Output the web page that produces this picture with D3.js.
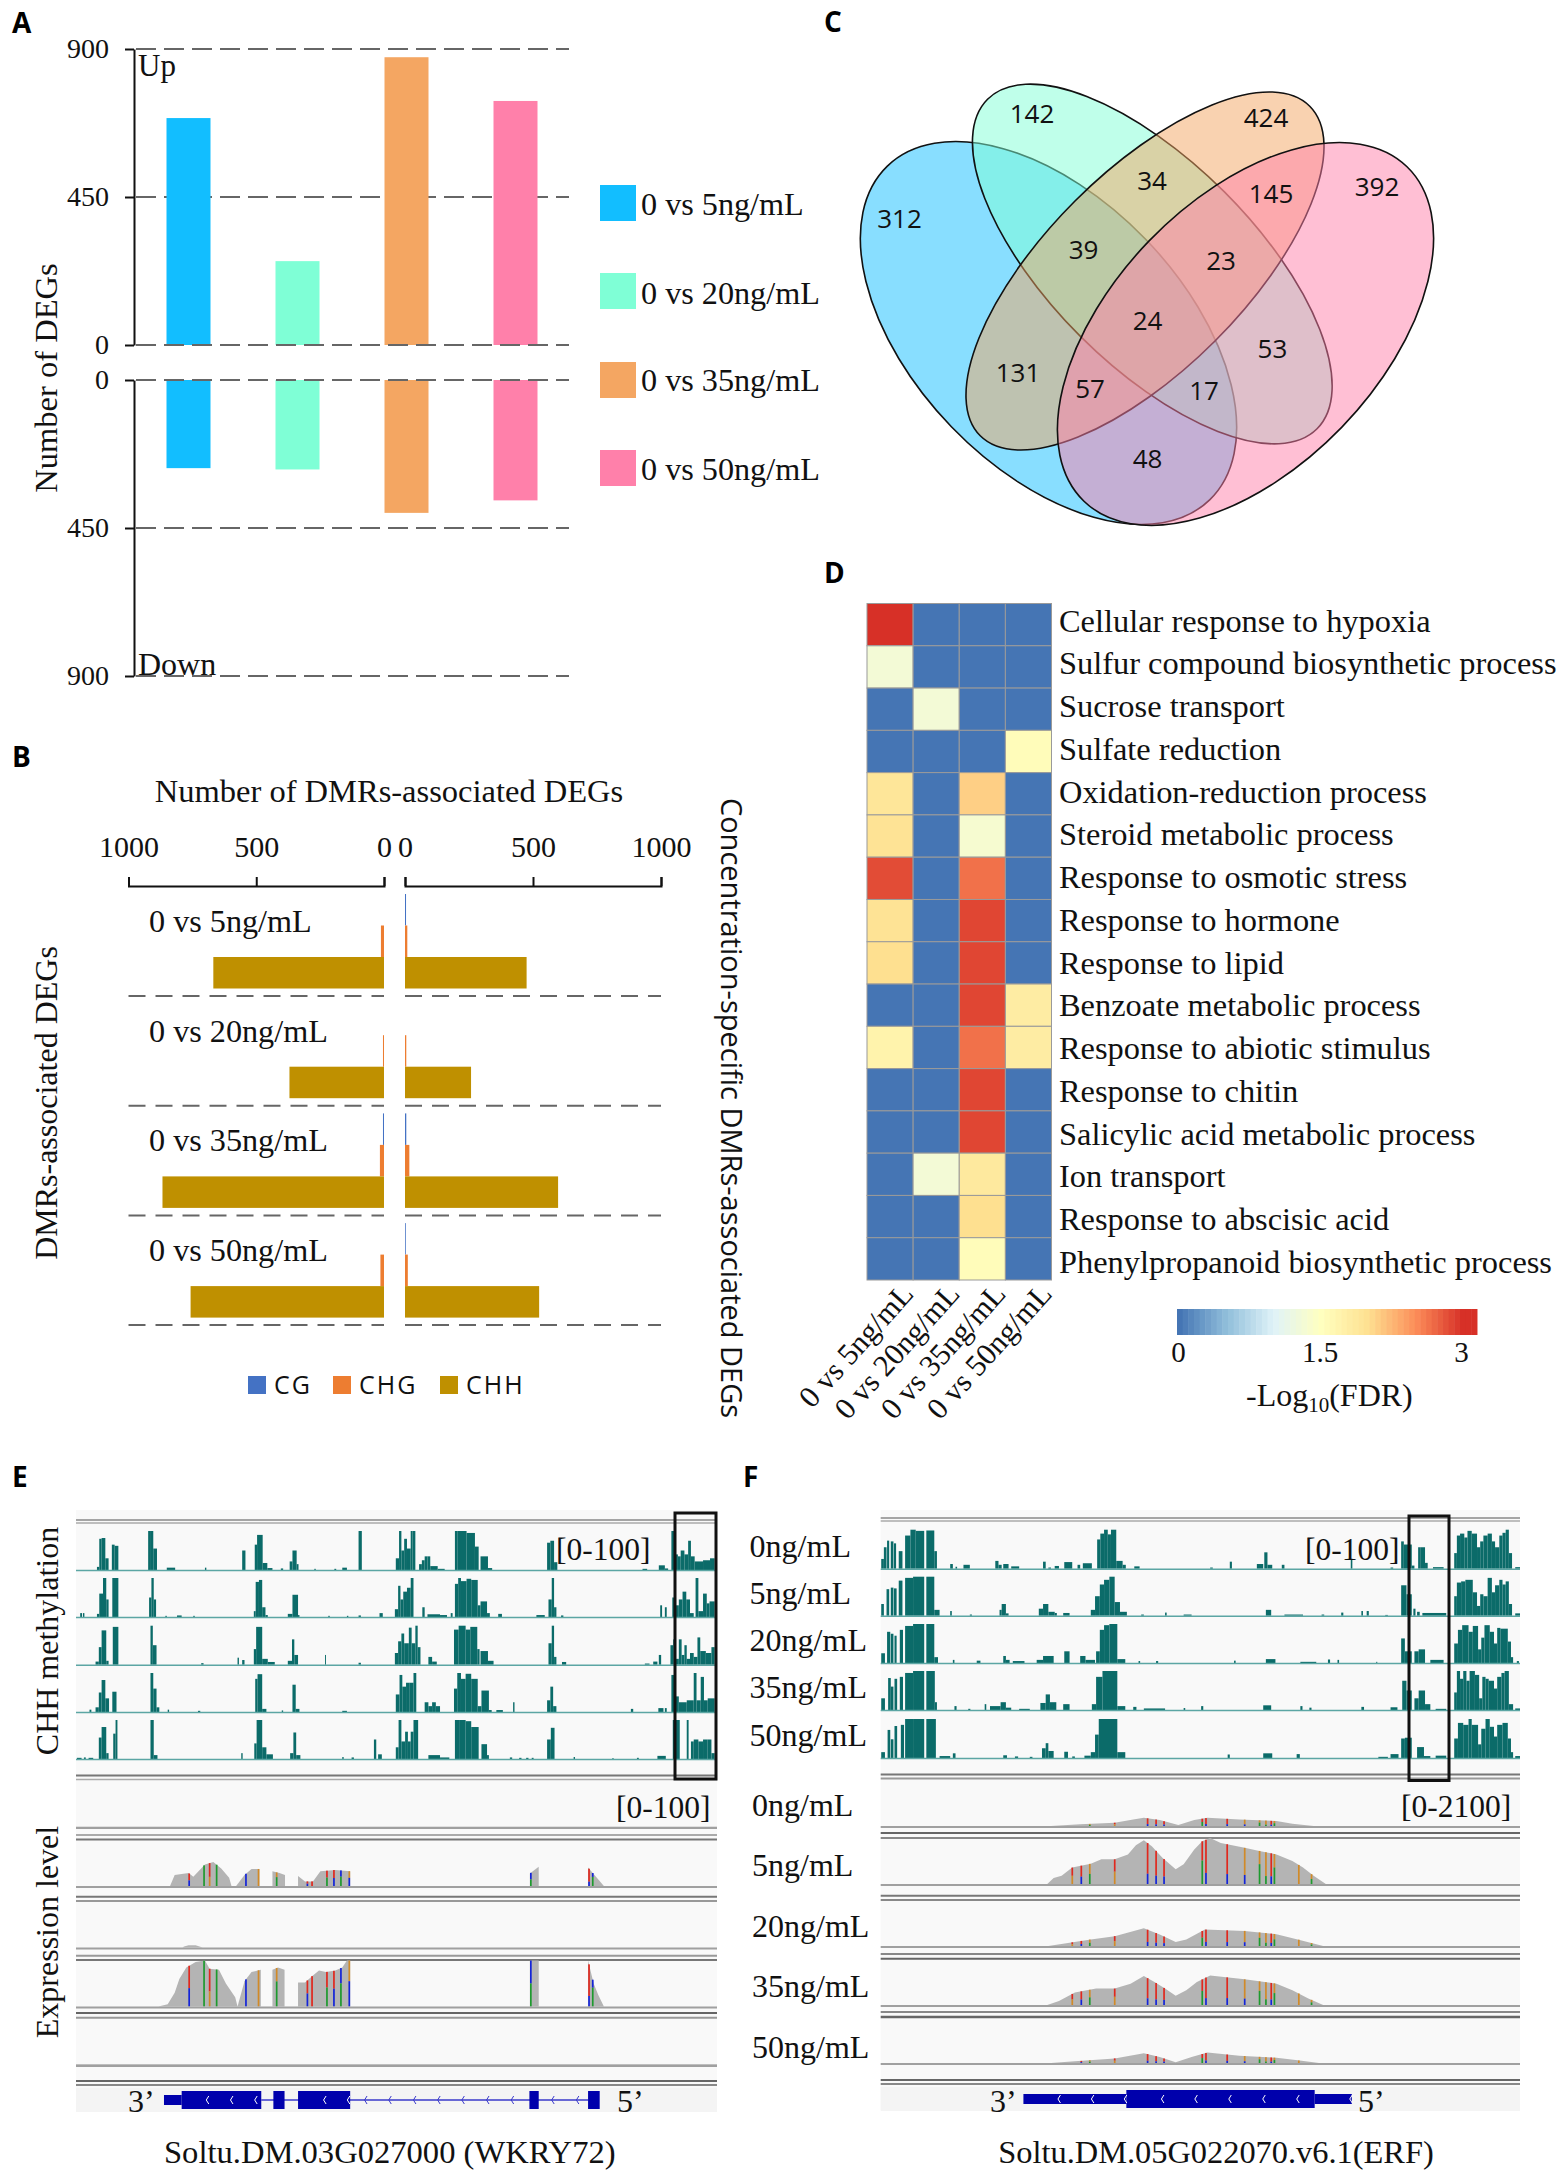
<!DOCTYPE html>
<html>
<head>
<meta charset="utf-8">
<script src="https://d3js.org/d3.v7.min.js"></script>
<style>
  html, body { margin: 0; padding: 0; background: #fff; }
  svg { display: block; }
  text { font-family: "Liberation Serif", serif; fill: #111; }
  .letter { font-family: "Open Sans", sans-serif; font-weight: 700; font-size: 28px; fill: #000; }
  .sans { font-family: "Open Sans", sans-serif; }
</style>
</head>
<body>
<svg id="fig" width="1562" height="2175"></svg>
<script>
// panel A
var comparisons = ['0 vs 5ng/mL', '0 vs 20ng/mL', '0 vs 35ng/mL', '0 vs 50ng/mL'];
var compColors = ['#12BEFF', '#7FFFD6', '#F4A662', '#FF80AA'];
var degUp = [690, 255, 875, 742];
var degDown = [268, 272, 404, 366];
var degTicks = [0, 450, 900];

// panel B
var dmrTypes = ['CG', 'CHG', 'CHH'];
var dmrColors = ['#4472C4', '#ED7D31', '#BF9000'];
var dmrLeft = [[0, 12, 668], [0, 4, 370], [4, 16, 867], [0, 14, 757]];
var dmrRight = [[4, 9, 475], [0, 5, 258], [5, 17, 598], [3, 11, 524]];
var dmrTicks = [0, 500, 1000];

// panel C
var vennLabels = ['312', '142', '424', '392', '34', '145', '39', '23', '24', '53', '131', '57', '17', '48'];

// panel D
var goTerms = ['Cellular response to hypoxia', 'Sulfur compound biosynthetic process', 'Sucrose transport',
  'Sulfate reduction', 'Oxidation-reduction process', 'Steroid metabolic process', 'Response to osmotic stress',
  'Response to hormone', 'Response to lipid', 'Benzoate metabolic process', 'Response to abiotic stimulus',
  'Response to chitin', 'Salicylic acid metabolic process', 'Ion transport', 'Response to abscisic acid',
  'Phenylpropanoid biosynthetic process'];
var goValues = [
  [3.0, 0, 0, 0], [1.3, 0, 0, 0], [0, 1.3, 0, 0], [0, 0, 0, 1.55],
  [1.9, 0, 2.1, 0], [1.95, 0, 1.35, 0], [2.85, 0, 2.65, 0], [1.95, 0, 2.88, 0],
  [2.0, 0, 2.88, 0], [0, 0, 2.88, 1.8], [1.7, 0, 2.65, 1.8], [0, 0, 2.88, 0],
  [0, 0, 2.88, 0], [0, 1.3, 1.85, 0], [0, 0, 2.0, 0], [0, 0, 1.55, 0]];

// panel E methylation, [start, end, percent]
var methE = [
  [[208,213,8],[213,218,80],[218,226,82],[226,233,30],[240,246,65],[246,254,62],[318,324,100],[324,329,100],[329,337,55],[358,376,6],[440,443,6],[520,527,50],[547,552,65],[552,564,90],[564,574,18],[574,585,5],[603,608,4],[622,628,22],[628,637,50],[637,641,15],[675,678,3],[718,722,3],[735,745,6],[770,777,100],[850,857,30],[857,862,100],[862,868,50],[868,874,80],[874,882,55],[882,886,100],[886,892,100],[900,906,15],[906,912,25],[912,918,35],[918,924,35],[924,940,10],[940,955,3],[977,983,100],[983,1002,100],[1002,1020,95],[1020,1028,60],[1032,1048,35],[1048,1057,5],[1175,1182,70],[1182,1190,75],[1190,1197,20],[1380,1390,3],[1415,1428,12],[1428,1435,4],[1442,1448,100],[1448,1456,40],[1456,1462,35],[1462,1470,50],[1470,1478,40],[1478,1484,75],[1484,1492,35],[1492,1510,22],[1510,1525,25],[1525,1535,30]],
  [[172,176,10],[178,181,10],[208,213,8],[213,221,60],[221,228,100],[228,233,45],[241,254,100],[320,325,50],[325,330,100],[330,335,45],[355,358,3],[380,390,4],[415,418,3],[545,549,15],[549,556,90],[556,563,95],[563,570,25],[570,575,5],[618,628,8],[628,640,57],[640,643,5],[705,708,3],[745,748,3],[770,775,4],[815,822,10],[848,855,20],[855,860,80],[860,866,45],[866,874,65],[874,882,75],[882,888,100],[907,912,25],[918,945,7],[945,960,5],[968,972,10],[977,984,85],[984,990,100],[990,1002,92],[1002,1012,98],[1012,1026,95],[1026,1032,30],[1032,1046,40],[1046,1052,10],[1070,1078,8],[1152,1170,5],[1178,1185,45],[1185,1190,100],[1190,1195,25],[1205,1210,4],[1418,1422,30],[1428,1432,25],[1444,1452,50],[1452,1458,30],[1458,1466,45],[1466,1474,65],[1474,1482,45],[1482,1490,10],[1494,1500,100],[1500,1510,15],[1510,1518,60],[1518,1524,35],[1524,1535,40]],
  [[205,212,8],[212,218,45],[218,228,88],[228,233,10],[242,254,97],[323,328,100],[328,336,50],[432,437,4],[510,513,18],[520,525,12],[545,550,40],[550,563,97],[563,575,15],[575,590,7],[618,627,10],[627,632,65],[632,640,25],[698,700,25],[770,775,5],[848,855,30],[855,862,60],[862,868,80],[868,878,55],[878,884,95],[884,892,55],[892,897,100],[897,903,45],[920,928,20],[928,938,8],[975,985,90],[985,1000,100],[1000,1010,90],[1010,1025,97],[1025,1030,40],[1032,1048,35],[1048,1060,10],[1178,1185,55],[1185,1190,100],[1190,1195,20],[1207,1216,7],[1385,1395,3],[1403,1412,8],[1415,1420,25],[1440,1446,50],[1446,1452,65],[1452,1458,15],[1458,1464,65],[1464,1470,25],[1470,1475,50],[1475,1482,15],[1482,1490,30],[1490,1498,20],[1498,1504,70],[1504,1516,35],[1516,1528,30],[1528,1535,45]],
  [[192,196,6],[205,212,12],[212,218,50],[218,226,82],[226,234,35],[241,250,52],[323,329,100],[329,336,60],[336,342,12],[360,363,6],[425,430,3],[548,553,85],[553,563,97],[563,572,8],[605,608,4],[628,635,70],[635,643,8],[735,745,3],[850,858,45],[858,864,95],[864,872,65],[872,880,75],[880,888,75],[888,894,100],[912,920,25],[920,928,15],[928,936,25],[936,945,15],[975,982,60],[982,990,100],[990,1000,85],[1000,1012,98],[1012,1026,85],[1026,1034,15],[1034,1050,55],[1050,1056,5],[1066,1080,5],[1102,1105,25],[1175,1182,30],[1182,1188,65],[1188,1195,15],[1355,1360,8],[1414,1425,10],[1428,1432,10],[1442,1450,95],[1450,1458,40],[1458,1475,25],[1475,1490,30],[1490,1496,100],[1496,1505,30],[1505,1512,90],[1512,1520,30],[1520,1535,35]],
  [[165,175,3],[180,184,4],[190,200,3],[212,218,55],[218,228,82],[228,233,15],[243,248,65],[248,252,100],[323,330,100],[330,338,10],[518,521,15],[546,551,40],[551,563,100],[563,572,30],[572,586,12],[623,630,15],[630,636,68],[636,645,10],[735,738,5],[755,760,4],[803,808,50],[812,820,12],[850,856,30],[856,862,100],[862,870,45],[870,876,70],[876,882,45],[882,888,70],[888,898,100],[920,945,10],[945,965,4],[977,986,100],[986,1000,100],[1000,1012,97],[1012,1028,82],[1034,1046,38],[1046,1050,10],[1095,1100,4],[1115,1120,3],[1130,1135,3],[1142,1146,3],[1175,1183,50],[1183,1191,80],[1232,1235,5],[1315,1318,2],[1368,1372,3],[1412,1430,8],[1445,1450,100],[1450,1460,100],[1475,1479,100],[1484,1490,45],[1490,1500,50],[1500,1510,45],[1510,1520,50],[1520,1528,50],[1528,1535,15]]
];

// panel F methylation, [start, end, percent]
var methF = [
  [[285,290,25],[290,295,55],[296,300,72],[303,308,70],[309,313,65],[318,325,45],[330,340,85],[340,350,100],[350,366,97],[370,385,98],[385,390,45],[415,420,12],[425,428,5],[440,452,10],[500,506,20],[506,512,10],[515,525,12],[530,545,6],[590,595,18],[600,605,3],[612,620,7],[630,645,17],[655,660,10],[665,682,14],[692,698,75],[698,705,90],[705,712,100],[712,718,88],[718,728,100],[728,740,20],[740,746,10],[762,772,6],[905,910,3],[942,946,18],[993,1005,12],[1007,1013,42],[1013,1022,10],[1040,1045,10],[1170,1173,25],[1245,1250,3],[1265,1270,70],[1270,1285,62],[1285,1290,8],[1297,1302,55],[1302,1310,55],[1310,1315,15],[1325,1345,4],[1365,1370,40],[1370,1376,85],[1376,1384,90],[1384,1390,80],[1390,1398,97],[1398,1408,90],[1408,1414,55],[1414,1420,70],[1420,1428,85],[1428,1436,90],[1436,1442,70],[1442,1450,55],[1450,1456,85],[1456,1462,92],[1462,1468,100],[1468,1474,40],[1480,1489,4]],
  [[285,290,30],[295,300,68],[303,308,72],[309,314,70],[318,325,90],[330,345,97],[345,366,100],[370,385,100],[385,395,15],[415,418,12],[452,456,3],[508,512,15],[512,520,30],[520,525,6],[582,590,18],[590,600,30],[600,612,10],[612,616,7],[628,640,7],[680,688,15],[688,697,50],[697,705,80],[705,715,92],[715,725,100],[725,735,35],[735,748,10],[775,780,3],[820,823,8],[855,870,3],[1010,1020,15],[1045,1080,3],[1115,1120,3],[1152,1156,8],[1190,1193,12],[1200,1204,12],[1235,1240,2],[1265,1275,78],[1275,1285,55],[1288,1292,18],[1295,1300,10],[1305,1350,7],[1365,1370,50],[1370,1378,85],[1378,1386,88],[1386,1400,92],[1400,1408,60],[1408,1414,25],[1414,1420,55],[1420,1428,50],[1428,1436,97],[1436,1442,60],[1442,1450,78],[1450,1456,92],[1456,1462,80],[1462,1468,88],[1468,1474,30],[1480,1489,6]],
  [[285,292,25],[296,302,80],[303,308,75],[310,314,70],[320,326,85],[330,345,95],[345,366,100],[370,385,100],[385,392,15],[420,423,8],[465,472,6],[515,520,18],[520,527,8],[533,555,5],[578,590,8],[590,610,18],[630,640,30],[660,670,18],[670,688,8],[690,697,30],[697,705,85],[705,715,97],[715,730,100],[730,745,10],[770,773,5],[803,807,5],[950,953,6],[1010,1028,10],[1075,1105,3],[1127,1131,9],[1145,1148,8],[1218,1220,3],[1265,1272,63],[1272,1285,30],[1290,1298,30],[1298,1310,35],[1320,1345,8],[1365,1372,50],[1372,1380,85],[1380,1392,97],[1392,1400,80],[1400,1410,95],[1410,1416,35],[1416,1422,65],[1422,1432,97],[1432,1440,80],[1440,1446,50],[1446,1452,90],[1452,1466,88],[1466,1472,55],[1472,1476,15],[1483,1487,5]],
  [[285,292,30],[298,303,82],[303,308,60],[310,315,80],[320,326,85],[330,345,95],[345,366,100],[370,386,100],[386,390,20],[423,427,10],[449,453,3],[480,483,15],[490,510,10],[510,520,20],[520,530,6],[545,565,3],[585,595,18],[595,603,40],[603,615,20],[628,640,15],[682,690,15],[690,702,85],[702,730,100],[730,745,10],[760,766,8],[780,820,4],[855,858,5],[888,892,10],[1005,1020,12],[1075,1079,10],[1092,1096,6],[1190,1195,8],[1245,1258,7],[1267,1275,75],[1275,1285,50],[1290,1298,30],[1298,1310,50],[1310,1320,15],[1330,1350,3],[1365,1370,45],[1370,1376,100],[1376,1382,80],[1382,1388,100],[1388,1394,75],[1394,1404,100],[1404,1412,90],[1412,1418,30],[1418,1424,85],[1424,1430,80],[1430,1440,75],[1440,1446,55],[1446,1454,85],[1454,1460,95],[1460,1468,100],[1468,1476,15],[1480,1489,4]],
  [[285,292,15],[297,302,72],[303,308,48],[310,315,82],[322,328,85],[330,345,100],[345,366,100],[370,388,100],[395,415,5],[420,425,12],[515,522,7],[537,543,4],[565,570,3],[588,595,25],[595,600,38],[600,610,18],[630,637,16],[645,650,4],[668,680,6],[680,688,15],[688,695,60],[695,730,100],[730,745,15],[938,942,9],[1005,1022,12],[1068,1074,10],[1222,1240,3],[1245,1260,10],[1265,1272,50],[1272,1285,52],[1295,1308,28],[1308,1320,5],[1330,1350,6],[1365,1372,50],[1372,1382,90],[1382,1392,85],[1392,1398,100],[1398,1410,85],[1410,1416,35],[1416,1424,75],[1424,1432,100],[1432,1440,80],[1440,1446,55],[1446,1456,85],[1456,1466,90],[1466,1472,50],[1472,1476,15],[1480,1489,5]]
];

// expression coverage, each track is a list of segments of [position, reads]
var exprE = [
  [],
  [[[365,0],[375,24],[405,28],[415,20],[440,47],[458,52],[475,38],[492,18],[497,0]],
   [[507,0],[525,24],[540,37],[557,37],[557,0]], [[585,0],[585,32],[600,28],[612,24],[612,0]],
   [[640,0],[640,22],[655,10],[672,10],[688,32],[720,35],[752,32],[752,0]],
   [[1138,0],[1138,27],[1157,42],[1157,0]], [[1263,0],[1263,40],[1280,20],[1297,0]]],
  [[[392,0],[395,2],[405,5],[420,5],[435,0]]],
  [[[340,0],[360,5],[375,30],[385,60],[400,85],[420,97],[440,100],[450,82],[470,80],[485,50],[505,20],[510,0]],
   [[510,0],[525,55],[540,75],[560,80],[560,0]], [[585,0],[585,80],[597,85],[611,80],[611,0]],
   [[640,0],[640,52],[655,52],[670,66],[685,78],[700,75],[720,78],[735,85],[745,100],[752,100],[752,0]],
   [[1138,0],[1138,100],[1157,100],[1157,0]], [[1263,0],[1263,100],[1275,50],[1285,25],[1297,0]]],
  []
];
var exprF = [
  [[[605,0],[660,75],[725,150],[760,300],[780,375],[810,270],[845,45],[875,270],[900,375],[960,300],[1030,225],[1060,105],[1100,0]]],
  [[[598,0],[610,270],[625,375],[645,750],[680,930],[700,1125],[725,1125],[750,1350],[765,1770],[780,1995],[795,1725],[815,1200],[840,675],[855,900],[875,1575],[890,1950],[905,2100],[925,1875],[970,1650],[1000,1500],[1030,1350],[1060,1050],[1080,750],[1100,375],[1123,0]]],
  [[[600,0],[640,150],[680,300],[725,450],[780,810],[810,525],[840,180],[860,300],[895,750],[970,690],[1030,540],[1070,300],[1118,0]]],
  [[[598,0],[620,180],[650,570],[690,750],[725,750],[755,975],[780,1320],[800,1050],[820,750],[840,420],[860,675],[880,1050],[905,1350],[970,1170],[1030,975],[1060,675],[1090,300],[1118,0]]],
  [[[605,0],[650,75],[725,210],[780,450],[810,270],[840,30],[870,270],[900,480],[960,330],[1030,240],[1070,120],[1110,0]]]
];

// variant positions: [position, lower base, upper base, fraction of lower base]
var variantsE = [[406,'C','T',0.45],[438,'A','A',1],[450,'G','T',0.4],[465,'A','A',1],[528,'C','C',1],[555,'G','G',1],[594,'A','G',0.65],[660,'C','T',0.5],[670,'T','T',1],[702,'A','T',0.55],[717,'C','T',0.5],[732,'A','C',0.6],[750,'C','G',0.55],[1140,'A','C',0.5],[1265,'C','T',0.25],[1273,'A','C',0.7]];
var variantsF = [[645,'G','T',0.5],[662,'C','T',0.4],[678,'A','G',0.5],[725,'G','T',0.5],[787,'C','T',0.25],[803,'C','T',0.25],[818,'C','T',0.3],[890,'A','T',0.55],[897,'C','T',0.25],[937,'C','T',0.25],[970,'C','G',0.25],[998,'A','G',0.6],[1010,'A','G',0.25],[1020,'C','T',0.25],[1026,'A','G',0.55],[1072,'G','G',1],[1096,'A','G',0.5]];
var baseColors = {A: '#1E9A2E', C: '#1424D8', G: '#D18A28', T: '#E0281E'};

// gene models
var exonsE = [[352,390,0],[390,561,1],[587,611,1],[640,752,1],[1137,1157,1],[1263,1288,1]];
var intronE = [561, 1263];
var marksE = [445,497,549,697,748,785,837,890,942,994,1047,1100,1187,1240];
var exonsF = [[553,747,0],[747,1102,1],[1102,1172,0]];
var marksF = [620,683,745,815,878,942,1006,1070,1170];

var doseLabels = ['0ng/mL', '5ng/mL', '20ng/mL', '35ng/mL', '50ng/mL'];

var svg = d3.select('#fig');

function letter(s, x, y) {
  svg.append('text').attr('class', 'letter').attr('x', x).attr('y', y).text(s);
}

function rotated(s, x, y, angle, size, cls) {
  return svg.append('text').attr('class', cls || null)
    .attr('transform', 'translate(' + x + ',' + y + ') rotate(' + angle + ')')
    .attr('text-anchor', 'middle').attr('dominant-baseline', 'middle')
    .style('font-size', size + 'px').text(s);
}

function hline(g, x0, x1, y, color, w, dash) {
  g.append('line').attr('x1', x0).attr('x2', x1).attr('y1', y).attr('y2', y)
    .attr('stroke', color).attr('stroke-width', w).attr('stroke-dasharray', dash || null);
}

/* ---------- A ---------- */
letter('A', 12, 33);
var ax = d3.scaleBand().domain(comparisons).range([137, 573]).paddingInner(0.0);
var barW = 44;
var yUp = d3.scaleLinear().domain([0, 900]).range([345, 49]);
var yDown = d3.scaleLinear().domain([0, 900]).range([380, 676]);
var gA = svg.append('g');
var dashA = '20,8';

degTicks.forEach(function(t) {
  hline(gA, 136, 569, yUp(t), '#666', 2, dashA);
  hline(gA, 136, 569, yDown(t), '#666', 2, dashA);
});

function barX(d) { return ax(d) + ax.bandwidth() / 2 - barW / 2 - 3; }

gA.selectAll('.up').data(comparisons).enter().append('rect')
  .attr('x', barX).attr('width', barW)
  .attr('y', function(d, i) { return yUp(degUp[i]); })
  .attr('height', function(d, i) { return yUp(0) - yUp(degUp[i]); })
  .attr('fill', function(d, i) { return compColors[i]; });
gA.selectAll('.down').data(comparisons).enter().append('rect')
  .attr('x', barX).attr('width', barW)
  .attr('y', yDown(0))
  .attr('height', function(d, i) { return yDown(degDown[i]) - yDown(0); })
  .attr('fill', function(d, i) { return compColors[i]; });
hline(gA, 136, 569, yUp(0), '#666', 2, dashA);
hline(gA, 136, 569, yDown(0), '#666', 2, dashA);

[yUp, yDown].forEach(function(sc) {
  var a = gA.append('g').attr('transform', 'translate(134,0)')
    .call(d3.axisLeft(sc).tickValues(degTicks).tickSize(9).tickSizeOuter(0).tickPadding(16));
  a.selectAll('path,line').attr('stroke', '#111').attr('stroke-width', 2);
  a.selectAll('text').style('font-family', '"Liberation Serif", serif').style('font-size', '28px').attr('fill', '#111');
});
svg.append('text').attr('x', 138).attr('y', 76).style('font-size', '31px').text('Up');
svg.append('text').attr('x', 138).attr('y', 675).style('font-size', '32px').text('Down');
rotated('Number of DEGs', 50, 378, -90, 32.5);

var legendY = [186, 275, 362, 451];
comparisons.forEach(function(c, i) {
  svg.append('rect').attr('x', 600).attr('y', [185, 273, 362, 450][i]).attr('width', 36).attr('height', 36).attr('fill', compColors[i]);
  svg.append('text').attr('x', 641).attr('y', legendY[i] + 29).style('font-size', '32.2px').text(c);
});

/* ---------- B ---------- */
letter('B', 12, 767);
svg.append('text').attr('x', 389).attr('y', 802).attr('text-anchor', 'middle').style('font-size', '32.5px')
  .text('Number of DMRs-associated DEGs');

var xLeft = d3.scaleLinear().domain([0, 1000]).range([384, 128.5]);
var xRight = d3.scaleLinear().domain([0, 1000]).range([405, 661]);
[xLeft, xRight].forEach(function(sc) {
  var a = svg.append('g').attr('transform', 'translate(0,886)')
    .call(d3.axisTop(sc).tickValues(dmrTicks).tickFormat(d3.format('d')).tickSize(9).tickPadding(20));
  a.selectAll('path,line').attr('stroke', '#111').attr('stroke-width', 2);
  a.selectAll('text').style('font-family', '"Liberation Serif", serif').style('font-size', '30px').attr('fill', '#111');
});

var rowY = d3.scaleBand().domain(comparisons).range([894, 894 + 4 * 109.7]);
var typeY = d3.scaleBand().domain(dmrTypes).range([0, 94.5]);
comparisons.forEach(function(c, i) {
  var g = svg.append('g').attr('transform', 'translate(0,' + rowY(c) + ')');
  g.selectAll('.l').data(dmrTypes).enter().append('rect')
    .attr('x', function(d, j) { return xLeft(dmrLeft[i][j]); })
    .attr('width', function(d, j) { return xLeft(0) - xLeft(dmrLeft[i][j]); })
    .attr('y', function(d) { return typeY(d); }).attr('height', typeY.bandwidth())
    .attr('fill', function(d, j) { return dmrColors[j]; });
  g.selectAll('.r').data(dmrTypes).enter().append('rect')
    .attr('x', xRight(0))
    .attr('width', function(d, j) { return xRight(dmrRight[i][j]) - xRight(0); })
    .attr('y', function(d) { return typeY(d); }).attr('height', typeY.bandwidth())
    .attr('fill', function(d, j) { return dmrColors[j]; });
  hline(g, 128.5, 384, 102, '#666', 2, '17,10');
  hline(g, 405, 661, 102, '#666', 2, '17,10');
  g.append('text').attr('x', 149).attr('y', 38).style('font-size', '32.2px').text(c);
});
rotated('DMRs-associated DEGs', 50, 1103, -90, 32);
rotated('Concentration-specific DMRs-associated DEGs', 729, 1108, 90, 29, 'sans');

var typeLegendX = [248, 333, 440];
dmrTypes.forEach(function(t, i) {
  svg.append('rect').attr('x', typeLegendX[i]).attr('y', 1376).attr('width', 18).attr('height', 18).attr('fill', dmrColors[i]);
  svg.append('text').attr('class', 'sans').attr('x', typeLegendX[i] + 26).attr('y', 1394)
    .style('font-size', '25px').style('letter-spacing', '2px').text(t);
});

/* ---------- C ---------- */
letter('C', 824, 32);
var vennShapes = [
  {cx: 1048.5, cy: 333, a: 232, b: 135, angle: 46, fill: '#12BEFF'},
  {cx: 1152.3, cy: 264, a: 233, b: 102, angle: 45, fill: '#7FFFD6'},
  {cx: 1145, cy: 271, a: 233, b: 99, angle: -45, fill: '#F4A662'},
  {cx: 1245.5, cy: 334, a: 232.5, b: 134, angle: -46, fill: '#FF80AA'}
];
svg.append('g').selectAll('ellipse').data(vennShapes).enter().append('ellipse')
  .attr('rx', function(d) { return d.a; }).attr('ry', function(d) { return d.b; })
  .attr('transform', function(d) { return 'translate(' + d.cx + ',' + d.cy + ') rotate(' + d.angle + ')'; })
  .attr('fill', function(d) { return d.fill; }).attr('fill-opacity', 0.5)
  .attr('stroke', '#111').attr('stroke-width', 1.6);
var vennPos = [[899.5,218.6],[1032,114],[1266,118],[1377,187],[1152,181],[1271,193.6],[1083.6,250],[1221,260.7],
  [1147.5,320.7],[1272.4,349],[1018,372.5],[1090,389],[1204,391],[1147.5,459]];
svg.append('g').selectAll('text').data(vennLabels).enter().append('text')
  .attr('class', 'sans').attr('text-anchor', 'middle').attr('dominant-baseline', 'central')
  .attr('x', function(d, i) { return vennPos[i][0]; }).attr('y', function(d, i) { return vennPos[i][1] - 1; })
  .style('font-size', '26px').text(function(d) { return d; });

/* ---------- D ---------- */
letter('D', 824, 583);
var heatColor = d3.scaleLinear().domain([0, 0.5, 1, 1.5, 2, 2.5, 3])
  .range(['#4575b4', '#91bfdb', '#e0f3f8', '#ffffbf', '#fee090', '#fc8d59', '#d73027']).clamp(true);
var hx = d3.scaleBand().domain(comparisons).range([867, 1051.5]);
var hy = d3.scaleBand().domain(goTerms).range([603.5, 1280]);
var labelY = d3.scaleLinear().domain([0, goTerms.length - 1]).range([631.5, 1273]);
goTerms.forEach(function(term, r) {
  svg.append('g').selectAll('rect').data(comparisons).enter().append('rect')
    .attr('x', function(c) { return hx(c); }).attr('y', hy(term))
    .attr('width', hx.bandwidth()).attr('height', hy.bandwidth())
    .attr('fill', function(c, j) { return heatColor(goValues[r][j]); })
    .attr('stroke', '#9a9a9a').attr('stroke-width', 1);
  svg.append('text').attr('x', 1059).attr('y', labelY(r))
    .style('font-size', '32.4px').text(term);
});
comparisons.forEach(function(c) {
  svg.append('text').attr('text-anchor', 'end')
    .attr('transform', 'translate(' + (hx(c) + hx.bandwidth() / 2 + 25) + ',1295) rotate(-48)')
    .style('font-size', '30.5px').text(c);
});

var barScale = d3.scaleLinear().domain([0, 3]).range([1178, 1461]);
var barSteps = d3.range(0, 3.12, 0.06);
svg.append('g').selectAll('rect').data(barSteps).enter().append('rect')
  .attr('x', function(d) { return barScale(d) - 1; })
  .attr('width', barScale(0.06) - barScale(0) + 0.5)
  .attr('y', 1309).attr('height', 26)
  .attr('fill', function(d) { return heatColor(d); });
var barAxis = svg.append('g').attr('transform', 'translate(0,1335)')
  .call(d3.axisBottom(barScale).tickValues([0, 1.5, 3]).tickFormat(function(d) { return d; }).tickSize(0).tickPadding(6));
barAxis.select('path').remove();
barAxis.selectAll('text').style('font-family', '"Liberation Serif", serif').style('font-size', '29px').attr('fill', '#111');
var fdr = svg.append('text').attr('x', 1246).attr('y', 1406).style('font-size', '32px');
fdr.append('tspan').text('-Log');
fdr.append('tspan').attr('dy', 6).style('font-size', '21px').text('10');
fdr.append('tspan').attr('dy', -6).text('(FDR)');

/* ---------- E / F tracks ---------- */
function drawPanel(opt) {
  var g = svg.append('g');
  var x = d3.scaleLinear().domain(opt.domain).range(opt.range);
  var x0 = opt.range[0], x1 = opt.range[1];

  g.append('rect').attr('x', x0).attr('y', opt.bgTop).attr('width', x1 - x0)
    .attr('height', opt.bgBottom - opt.bgTop).attr('fill', '#f9f9f9');

  opt.lines.forEach(function(l) { hline(g, x0, x1, l[0], l[1], l[2]); });

  // methylation
  var yM = d3.scaleLinear().domain([0, 100]).range([0, 39]);
  opt.meth.forEach(function(bins, t) {
    var base = opt.methBase[t];
    g.append('g').selectAll('rect').data(bins).enter().append('rect')
      .attr('x', function(d) { return x(d[0]); })
      .attr('width', function(d) { return x(d[1]) - x(d[0]); })
      .attr('y', function(d) { return base - yM(d[2]); })
      .attr('height', function(d) { return yM(d[2]); })
      .attr('fill', '#0B6B69');
    hline(g, x0, x1, base + 0.5, '#5CA6A4', 1.6);
  });

  // coverage
  var yE = d3.scaleLinear().domain([0, opt.exprMax]).range([0, 46]);
  opt.expr.forEach(function(segs, t) {
    var base = opt.exprBase[t];
    var area = d3.area().x(function(d) { return x(d[0]); }).y0(base)
      .y1(function(d) { return base - yE(d[1]); });
    g.append('g').selectAll('path').data(segs).enter().append('path')
      .attr('d', area).attr('fill', '#b4b4b4');

    function coverage(p) {
      var v = 0;
      segs.forEach(function(s) {
        for (var i = 0; i < s.length - 1; i++) {
          if (s[i][0] <= p && p <= s[i + 1][0] && s[i + 1][0] > s[i][0]) {
            v = s[i][1] + (s[i + 1][1] - s[i][1]) * (p - s[i][0]) / (s[i + 1][0] - s[i][0]);
          }
        }
      });
      return v;
    }
    if (segs.length && d3.max(segs, function(s) { return d3.max(s, function(d) { return d[1]; }); }) > opt.exprMax * 0.1) {
      opt.variants.forEach(function(v) {
        var h = yE(coverage(v[0]));
        if (h < 2) return;
        g.append('rect').attr('x', x(v[0]) - 0.8).attr('width', 1.7).attr('y', base - h).attr('height', h * (1 - v[3]))
          .attr('fill', baseColors[v[2]]);
        g.append('rect').attr('x', x(v[0]) - 0.8).attr('width', 1.7).attr('y', base - h * v[3]).attr('height', h * v[3])
          .attr('fill', baseColors[v[1]]);
      });
    }
    hline(g, x0, x1, base + 1, '#a0a0a0', 2);
  });

  // gene model
  g.append('rect').attr('x', x0).attr('y', opt.geneY - 12).attr('width', x1 - x0).attr('height', 24).attr('fill', '#f4f4f4');
  if (opt.intron) {
    hline(g, x(opt.intron[0]), x(opt.intron[1]), opt.geneY, '#3A3ACB', 1.4);
  }
  g.selectAll('.exon').data(opt.exons).enter().append('rect')
    .attr('x', function(d) { return x(d[0]); })
    .attr('width', function(d) { return x(d[1]) - x(d[0]); })
    .attr('y', function(d) { return opt.geneY - (d[2] ? 9 : 5); })
    .attr('height', function(d) { return d[2] ? 18 : 10; })
    .attr('fill', '#0000AC');
  g.selectAll('.mark').data(opt.marks).enter().append('path')
    .attr('d', function(d) {
      var px = x(d);
      return 'M' + (px + 1.5) + ',' + (opt.geneY - 4) + 'L' + (px - 1) + ',' + opt.geneY + 'L' + (px + 1.5) + ',' + (opt.geneY + 4);
    })
    .attr('fill', 'none').attr('stroke-width', 1)
    .attr('stroke', function(d) {
      var inExon = opt.exons.some(function(e) { return e[0] <= d && d <= e[1]; });
      return inExon ? '#fff' : '#3A3ACB';
    });

  // highlight box
  g.append('rect').attr('x', opt.box[0]).attr('y', opt.box[1]).attr('width', opt.box[2] - opt.box[0])
    .attr('height', opt.box[3] - opt.box[1]).attr('fill', 'none').attr('stroke', '#111').attr('stroke-width', 3);
}

letter('E', 12, 1487);
drawPanel({
  domain: [163, 1540], range: [76, 717], bgTop: 1510, bgBottom: 2112,
  lines: [[1520, '#888', 1.5], [1523, '#aaa', 1.5], [1775.5, '#777', 2], [1779.5, '#aaa', 1.5],
    [1827.7, '#999', 2], [1835, '#aaa', 2], [1839.5, '#777', 2], [1896.7, '#777', 2], [1901, '#999', 2],
    [1955.7, '#999', 2], [1960, '#777', 2], [2013, '#666', 2], [2017.7, '#999', 2], [2065, '#aaa', 1.5],
    [2081, '#666', 2], [2085, '#888', 2]],
  meth: methE, methBase: [1570, 1617, 1664.7, 1712, 1759],
  expr: exprE, exprBase: [1827, 1886, 1947.5, 2006.5, 2065], exprMax: 100, variants: variantsE,
  exons: exonsE, intron: intronE, marks: marksE, geneY: 2100,
  box: [675, 1513, 716, 1779]
});
svg.append('text').attr('x', 556).attr('y', 1560).style('font-size', '31.5px').text('[0-100]');
svg.append('text').attr('x', 616).attr('y', 1818).style('font-size', '31.5px').text('[0-100]');
rotated('CHH methylation', 51, 1641, -90, 32);
rotated('Expression level', 51, 1932, -90, 32);
svg.append('text').attr('x', 128).attr('y', 2112).style('font-size', '32px').text('3’');
svg.append('text').attr('x', 617).attr('y', 2112).style('font-size', '32px').text('5’');
svg.append('text').attr('x', 164).attr('y', 2163).style('font-size', '32.6px').text('Soltu.DM.03G027000 (WKRY72)');

letter('F', 743, 1487);
drawPanel({
  domain: [284, 1489], range: [880.7, 1520], bgTop: 1510, bgBottom: 2110,
  lines: [[1518, '#888', 1.5], [1521, '#aaa', 1.5], [1774.5, '#777', 2], [1778.5, '#999', 2],
    [1833, '#666', 2], [1838, '#888', 2], [1895.7, '#777', 2], [1900, '#888', 2],
    [1954, '#888', 2], [1958.7, '#666', 2], [2012, '#888', 2], [2017, '#666', 2.4],
    [2080, '#666', 2], [2084, '#888', 2]],
  meth: methF, methBase: [1568.7, 1615.7, 1663, 1710, 1758],
  expr: exprF, exprBase: [1826, 1884, 1946, 2005, 2063], exprMax: 2100, variants: variantsF,
  exons: exonsF, marks: marksF, geneY: 2099,
  box: [1409, 1516, 1449, 1780.5]
});
svg.append('text').attr('x', 1305).attr('y', 1560).style('font-size', '31.5px').text('[0-100]');
svg.append('text').attr('x', 1401).attr('y', 1817).style('font-size', '31.5px').text('[0-2100]');
var fTop = [1545.7, 1593, 1640, 1687, 1734.7];
var fBottom = [1805, 1865, 1925.7, 1986, 2046.7];
doseLabels.forEach(function(d, i) {
  svg.append('text').attr('x', 749.6).attr('y', fTop[i]).attr('dominant-baseline', 'central').style('font-size', '32px').text(d);
  svg.append('text').attr('x', 752).attr('y', fBottom[i]).attr('dominant-baseline', 'central').style('font-size', '32px').text(d);
});
svg.append('text').attr('x', 990).attr('y', 2112).style('font-size', '32px').text('3’');
svg.append('text').attr('x', 1358).attr('y', 2112).style('font-size', '32px').text('5’');
svg.append('text').attr('x', 1216).attr('y', 2163).attr('text-anchor', 'middle').style('font-size', '32.4px').text('Soltu.DM.05G022070.v6.1(ERF)');
</script>
</body>
</html>
